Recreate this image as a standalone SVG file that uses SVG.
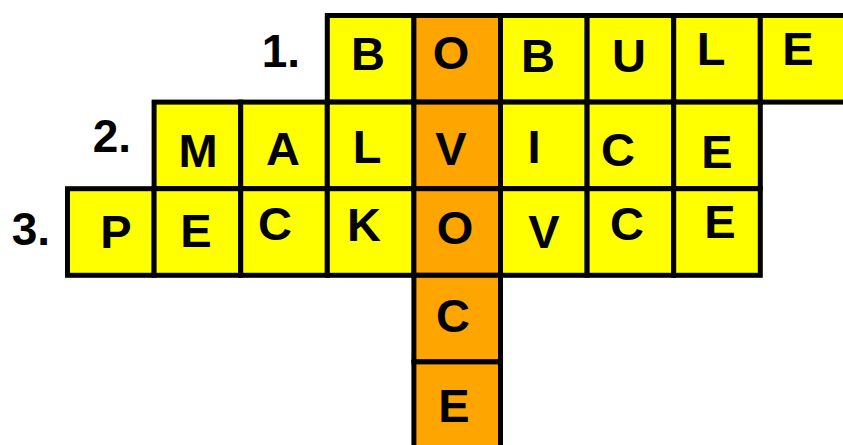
<svg xmlns="http://www.w3.org/2000/svg" width="843" height="445" viewBox="0 0 843 445">
<style>
.y{fill:#FFFF00;stroke:#000;stroke-width:5}
.o{fill:#FFA500;stroke:#000;stroke-width:5}
.t{font-family:"Liberation Sans",Arial,sans-serif;font-weight:bold;font-size:47px;fill:#000;text-anchor:middle}
.n{font-family:"Liberation Sans",Arial,sans-serif;font-weight:bold;font-size:46px;fill:#000;text-anchor:end}
</style>
<rect width="843" height="445" fill="#fff"/>
<g id="labels">
<text class="n" x="300" y="67">1.</text>
<text class="n" x="131" y="152">2.</text>
<text class="n" x="50" y="245">3.</text>
</g>
<g id="row1">
<g id="r1c1"><rect class="y" x="327.3" y="15.5" width="86.6" height="86.6"/><text class="t" x="368" y="70">B</text></g>
<g id="r1c2"><rect class="o" x="413.9" y="15.5" width="86.6" height="86.6"/><text class="t" x="451" y="69">O</text></g>
<g id="r1c3"><rect class="y" x="500.5" y="15.5" width="86.6" height="86.6"/><text class="t" x="538" y="72">B</text></g>
<g id="r1c4"><rect class="y" x="587.1" y="15.5" width="86.6" height="86.6"/><text class="t" x="629" y="72">U</text></g>
<g id="r1c5"><rect class="y" x="673.7" y="15.5" width="86.6" height="86.6"/><text class="t" x="711" y="65">L</text></g>
<g id="r1c6"><rect class="y" x="760.3" y="15.5" width="86.6" height="86.6"/><text class="t" x="798" y="65">E</text></g>
</g>
<g id="row2">
<g id="r2c1"><rect class="y" x="154.1" y="102.1" width="86.6" height="86.6"/><text class="t" x="198" y="167">M</text></g>
<g id="r2c2"><rect class="y" x="240.7" y="102.1" width="86.6" height="86.6"/><text class="t" x="283" y="165">A</text></g>
<g id="r2c3"><rect class="y" x="327.3" y="102.1" width="86.6" height="86.6"/><text class="t" x="367" y="163">L</text></g>
<g id="r2c4"><rect class="o" x="413.9" y="102.1" width="86.6" height="86.6"/><text class="t" x="451" y="165">V</text></g>
<g id="r2c5"><rect class="y" x="500.5" y="102.1" width="86.6" height="86.6"/><text class="t" x="534" y="163">I</text></g>
<g id="r2c6"><rect class="y" x="587.1" y="102.1" width="86.6" height="86.6"/><text class="t" x="618" y="166">C</text></g>
<g id="r2c7"><rect class="y" x="673.7" y="102.1" width="86.6" height="86.6"/><text class="t" x="717" y="168">E</text></g>
</g>
<g id="row3">
<g id="r3c1"><rect class="y" x="67.5" y="188.7" width="86.6" height="86.6"/><text class="t" x="116" y="248">P</text></g>
<g id="r3c2"><rect class="y" x="154.1" y="188.7" width="86.6" height="86.6"/><text class="t" x="196" y="247">E</text></g>
<g id="r3c3"><rect class="y" x="240.7" y="188.7" width="86.6" height="86.6"/><text class="t" x="275" y="240">C</text></g>
<g id="r3c4"><rect class="y" x="327.3" y="188.7" width="86.6" height="86.6"/><text class="t" x="364" y="241">K</text></g>
<g id="r3c5"><rect class="o" x="413.9" y="188.7" width="86.6" height="86.6"/><text class="t" x="455" y="244">O</text></g>
<g id="r3c6"><rect class="y" x="500.5" y="188.7" width="86.6" height="86.6"/><text class="t" x="544" y="248">V</text></g>
<g id="r3c7"><rect class="y" x="587.1" y="188.7" width="86.6" height="86.6"/><text class="t" x="627" y="240">C</text></g>
<g id="r3c8"><rect class="y" x="673.7" y="188.7" width="86.6" height="86.6"/><text class="t" x="720" y="238">E</text></g>
</g>
<g id="column">
<g id="r4c5"><rect class="o" x="413.9" y="275.3" width="86.6" height="86.6"/><text class="t" x="453" y="332">C</text></g>
<g id="r5c5"><rect class="o" x="413.9" y="361.9" width="86.6" height="86.6"/><text class="t" x="454" y="422">E</text></g>
</g>
<g id="connectors"/>
</svg>
